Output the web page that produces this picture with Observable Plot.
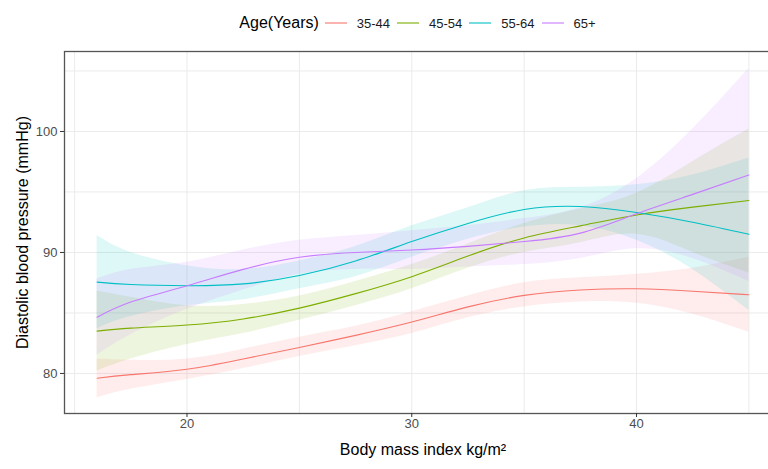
<!DOCTYPE html>
<html><head><meta charset="utf-8">
<script src="https://cdn.jsdelivr.net/npm/d3@7"></script>
<script src="https://cdn.jsdelivr.net/npm/@observablehq/plot@0.6"></script>
<style>
html,body{margin:0;padding:0;background:#fff;overflow:hidden;}
body{width:768px;height:469px;font-family:"Liberation Sans",Arial,sans-serif;}
#legend{width:768px;height:46px;box-sizing:border-box;padding-left:74px;display:flex;align-items:center;justify-content:center;color:#000;}
#legend .title{font-size:16px;margin-right:6px;}
#legend .item{display:flex;align-items:center;margin-right:7px;}
#legend .lab{font-size:13px;margin-left:10px;color:#1a1a1a;}
#chart svg{display:block;}
</style></head>
<body>
<div id="legend"></div>
<div id="chart"></div>
<script>
// ---- data ----
const ageGroups = ["35-44", "45-54", "55-64", "65+"];
const groupColors = ["#F8766D", "#7CAE00", "#00BFC4", "#C77CFF"];
const bmi = [16, 17.5, 20, 22.5, 25, 27.5, 30, 32.5, 35, 37.5, 40, 42.5, 45];

const fit3544 = [79.6, 79.9, 80.35, 81.2, 82.15, 83.15, 84.25, 85.5, 86.45, 86.9, 87.0, 86.8, 86.5];
const lo3544  = [78.0, 78.7, 79.5, 80.4, 81.4, 82.3, 83.3, 84.6, 85.5, 85.9, 85.8, 84.9, 83.4];
const hi3544  = [81.2, 81.1, 81.2, 82.0, 83.0, 83.9, 85.1, 86.4, 87.5, 87.9, 88.2, 88.7, 89.6];

const fit4554 = [83.5, 83.75, 84.0, 84.5, 85.4, 86.6, 88.0, 89.7, 91.2, 92.2, 93.1, 93.75, 94.3];
const lo4554  = [80.2, 81.2, 82.4, 83.3, 84.4, 85.6, 87.0, 88.7, 90.0, 90.8, 91.5, 90.0, 88.3];
const hi4554  = [86.8, 86.3, 85.6, 85.7, 86.4, 87.6, 89.0, 90.7, 92.4, 93.6, 94.9, 97.5, 100.2];

const fit5564 = [87.55, 87.35, 87.25, 87.4, 88.1, 89.3, 90.9, 92.4, 93.55, 93.8, 93.3, 92.5, 91.5];
const lo5564  = [83.7, 84.7, 85.6, 86.1, 87.0, 88.0, 89.6, 91.1, 92.1, 92.2, 91.0, 88.6, 85.2];
const hi5564  = [91.4, 90.0, 88.9, 88.6, 89.3, 90.5, 92.2, 93.7, 95.1, 95.4, 95.6, 96.4, 97.8];

const fit65 = [84.65, 85.9, 87.25, 88.6, 89.6, 90.0, 90.2, 90.5, 90.9, 91.6, 93.2, 94.8, 96.4];
const lo65  = [81.5, 83.2, 85.3, 86.9, 88.2, 88.6, 88.6, 88.8, 89.0, 89.5, 90.3, 89.5, 87.6];
const hi65  = [87.8, 88.6, 89.2, 90.2, 91.0, 91.4, 91.8, 92.2, 92.8, 93.7, 96.1, 100.2, 105.2];

const xTicks = [20, 30, 40];
const yTicks = [80, 90, 100];
const xGrid = [15, 20, 25, 30, 35, 40, 45];
const yGrid = [80, 85, 90, 95, 100, 105];
const legendTitle = "Age(Years)";
const xTitle = "Body mass index kg/m²";
const yTitle = "Diastolic blood pressure (mmHg)";

// ---- table ----
const fits = [fit3544, fit4554, fit5564, fit65];
const los = [lo3544, lo4554, lo5564, lo65];
const his = [hi3544, hi4554, hi5564, hi65];
const rows = ageGroups.flatMap((g, i) => bmi.map((x, j) => ({age: g, bmi: x, fit: fits[i][j], lo: los[i][j], hi: his[i][j]})));

// ---- legend ----
const leg = document.getElementById("legend");
const t = document.createElement("span"); t.className = "title"; t.textContent = legendTitle; leg.appendChild(t);
ageGroups.forEach((g, i) => {
  const it = document.createElement("span"); it.className = "item";
  it.innerHTML = `<svg width="22" height="10"><line x1="0" x2="22" y1="5" y2="5" stroke="${groupColors[i]}" stroke-width="1.1"/></svg><span class="lab">${g}</span>`;
  leg.appendChild(it);
});

// ---- plot ----
const plot = Plot.plot({
  width: 768, height: 423,
  marginTop: 5, marginBottom: 56, marginLeft: 64, marginRight: -13,
  style: {fontFamily: "Liberation Sans, Arial, sans-serif", fontSize: "13px", color: "#4d4d4d", background: "#fff"},
  x: {domain: [14.55, 46.45]},
  y: {domain: [76.69, 106.61]},
  color: {domain: ageGroups, range: groupColors},
  marks: [
    Plot.gridX(xGrid, {stroke: "#ebebeb", strokeOpacity: 1, strokeWidth: 1}),
    Plot.gridY(yGrid, {stroke: "#ebebeb", strokeOpacity: 1, strokeWidth: 1}),
    Plot.areaY(rows, {x: "bmi", y1: "lo", y2: "hi", fill: "age", fillOpacity: 0.13, curve: "natural"}),
    Plot.lineY(rows, {x: "bmi", y: "fit", stroke: "age", strokeWidth: 1.1, curve: "natural"}),
    Plot.frame({stroke: "#555", strokeWidth: 1.3}),
    Plot.axisX(xTicks, {tickSize: 4, tickPadding: 1, label: null, stroke: "#333"}),
    Plot.axisY(yTicks, {tickSize: 4, tickPadding: 3, label: null, stroke: "#333"}),
    Plot.text([xTitle], {frameAnchor: "bottom", dy: 36, fontSize: 16, fill: "#000", lineAnchor: "middle", textAnchor: "middle"}),
    Plot.text([yTitle], {frameAnchor: "left", dx: -42, rotate: -90, fontSize: 16, fill: "#000", lineAnchor: "middle", textAnchor: "middle"})
  ]
});
document.getElementById("chart").appendChild(plot);
</script>
</body></html>
